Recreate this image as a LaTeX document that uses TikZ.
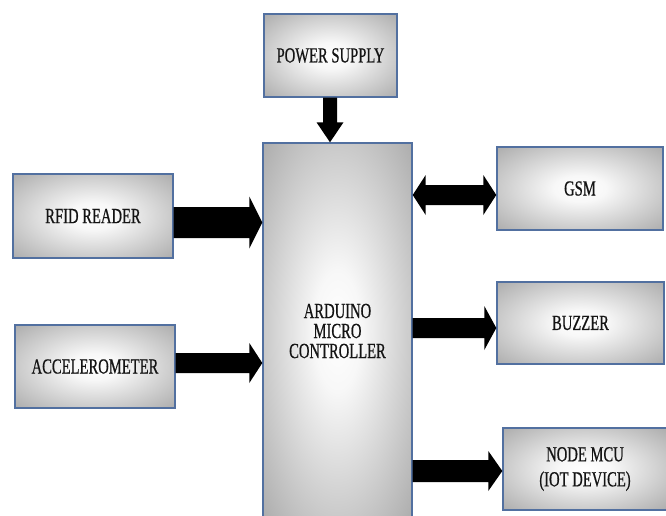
\documentclass[tikz,border=0pt]{standalone}
\usepackage{fontspec}
\setmainfont{Liberation Serif}
\newfontfamily\boxfont[FakeStretch=0.68,FakeBold=0.6]{Liberation Serif}
\usetikzlibrary{calc}
\definecolor{boxborder}{RGB}{82,112,160}
\pgfdeclareradialshading{boxshade}{\pgfpoint{0bp}{0bp}}{color(0bp)=(white); color(8bp)=(white!97!black); color(50bp)=(black!48); color(72bp)=(black!55)}
\tikzset{
  blockbox/.style={draw=boxborder, line width=1.4pt, shading=boxshade, rectangle,
    inner sep=0pt, text=black!92, align=center,
    font=\boxfont\fontsize{21.5}{20}\selectfont},
  blockarrow/.style={fill=black}
}
% right-pointing block arrow: from, to, y-level, shaft half, head half, head length
\newcommand\blockR[6]{\fill[blockarrow] let \p1=(#1 |- #3), \p2=(#2 |- #3) in
  (\x1,\y1+#4) -- (\x2-#6,\y1+#4) -- (\x2-#6,\y1+#5) -- (\x2,\y1) --
  (\x2-#6,\y1-#5) -- (\x2-#6,\y1-#4) -- (\x1,\y1-#4) -- cycle;}
% double-headed horizontal block arrow
\newcommand\blockLR[6]{\fill[blockarrow] let \p1=(#1 |- #3), \p2=(#2 |- #3) in
  (\x1,\y1) -- (\x1+#6,\y1+#5) -- (\x1+#6,\y1+#4) -- (\x2-#6,\y1+#4) -- (\x2-#6,\y1+#5) -- (\x2,\y1) --
  (\x2-#6,\y1-#5) -- (\x2-#6,\y1-#4) -- (\x1+#6,\y1-#4) -- (\x1+#6,\y1-#5) -- cycle;}
% downward block arrow: from, to, x-level, shaft half, head half, head length
\newcommand\blockD[6]{\fill[blockarrow] let \p1=(#1 -| #3), \p2=(#2 -| #3) in
  (\x1-#4,\y1) -- (\x1-#4,\y2+#6) -- (\x1-#5,\y2+#6) -- (\x1,\y2) --
  (\x1+#5,\y2+#6) -- (\x1+#4,\y2+#6) -- (\x1+#4,\y1) -- cycle;}
\begin{document}
\begin{tikzpicture}[x=1pt,y=-1pt]
\fill[white] (0,0) rectangle (666,516);
\clip (0,0) rectangle (666,516);
\useasboundingbox (0,0) rectangle (666,516);

\node[blockbox, minimum width=133pt, minimum height=83pt] (power) at (330.5,55.5) {POWER SUPPLY};
\node[blockbox, minimum width=149pt, minimum height=376pt] (main) at (337.5,331) {ARDUINO\\MICRO\\CONTROLLER};
\node[blockbox, minimum width=160pt, minimum height=84pt] (rfid) at (93,216) {RFID READER};
\node[blockbox, minimum width=160pt, minimum height=83pt] (accel) at (95,366.5) {ACCELEROMETER};
\node[blockbox, minimum width=166pt, minimum height=83pt] (gsm) at (580,188.5) {GSM};
\node[blockbox, minimum width=167pt, minimum height=82pt] (buzzer) at (580.5,323) {BUZZER};
\node[blockbox, minimum width=164pt, minimum height=82pt, font=\boxfont\fontsize{21.5}{25}\selectfont] (nodemcu) at (585,469) {NODE MCU\\(IOT DEVICE)};

\coordinate (xp) at (330,0);
\coordinate (yr) at (0,222.5);
\coordinate (ya) at (0,363);
\coordinate (yg) at (0,195);
\coordinate (yb) at (0,328);
\coordinate (yn) at (0,471);

\blockD{power.south}{main.north}{xp}{7pt}{13.5pt}{20pt}
\blockR{rfid.east}{main.west}{yr}{15.5pt}{26pt}{13pt}
\blockR{accel.east}{main.west}{ya}{10pt}{20pt}{13pt}
\blockLR{main.east}{gsm.west}{yg}{10pt}{20pt}{13pt}
\blockR{main.east}{buzzer.west}{yb}{10pt}{22pt}{12pt}
\blockR{main.east}{nodemcu.west}{yn}{11pt}{20pt}{14pt}
\end{tikzpicture}
\end{document}
